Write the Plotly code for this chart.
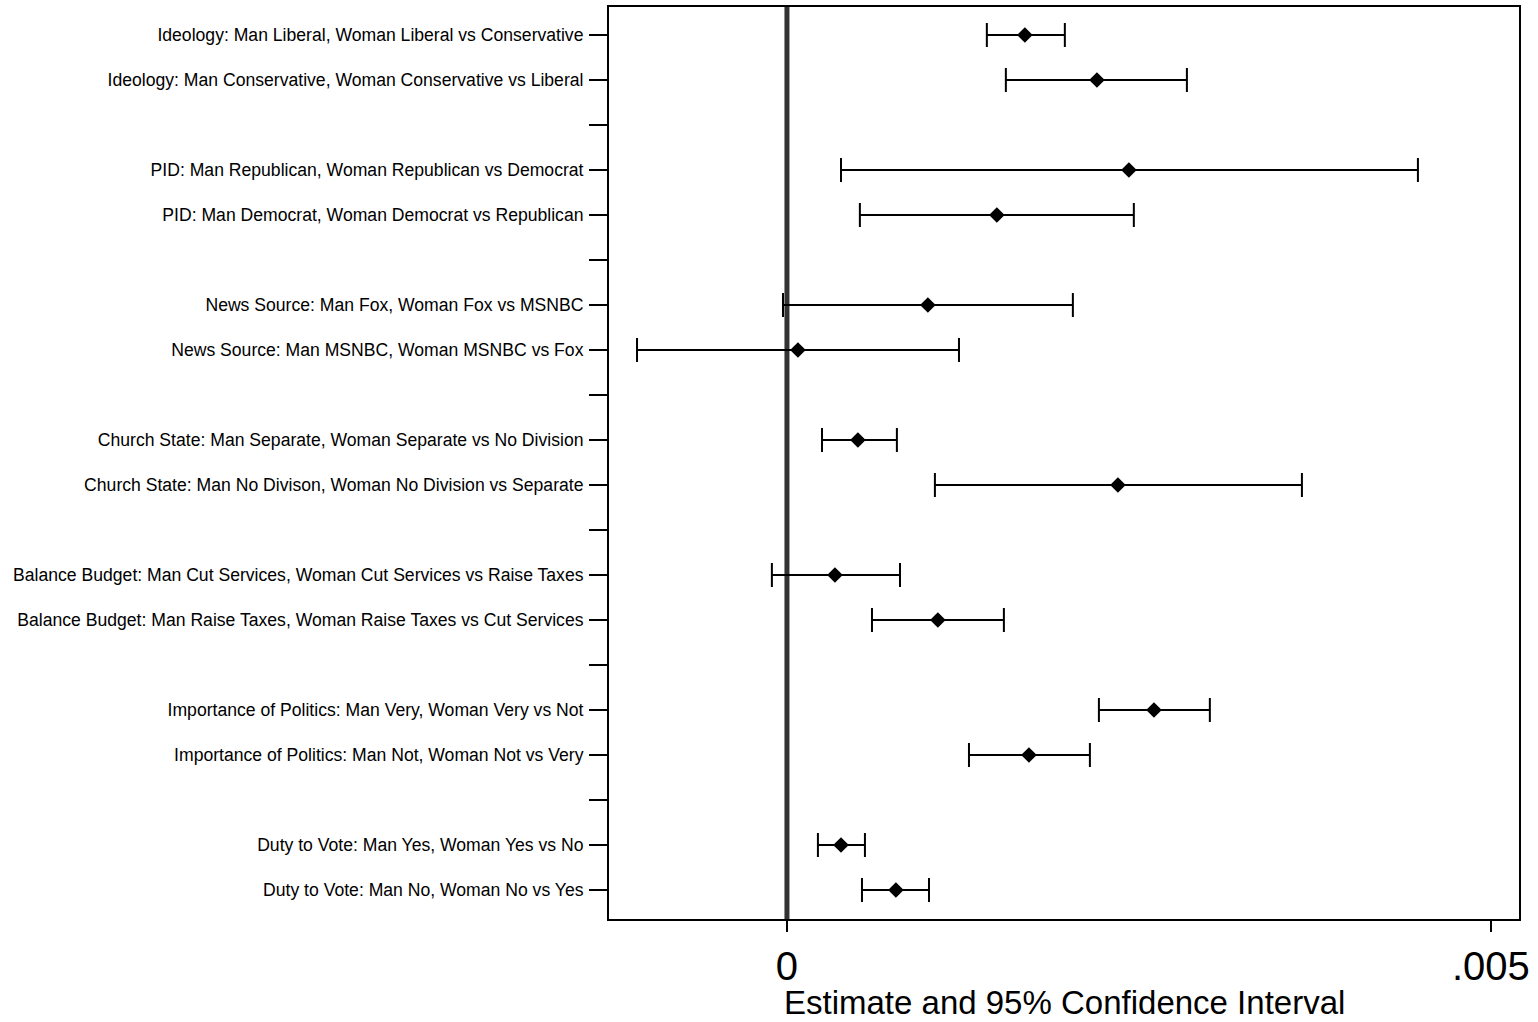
import plotly.graph_objects as go

labels = [
    "Ideology: Man Liberal, Woman Liberal vs Conservative",
    "Ideology: Man Conservative, Woman Conservative vs Liberal",
    "",
    "PID: Man Republican, Woman Republican vs Democrat",
    "PID: Man Democrat, Woman Democrat vs Republican",
    "",
    "News Source: Man Fox, Woman Fox vs MSNBC",
    "News Source: Man MSNBC, Woman MSNBC vs Fox",
    "",
    "Church State: Man Separate, Woman Separate vs No Division",
    "Church State: Man No Divison, Woman No Division vs Separate",
    "",
    "Balance Budget: Man Cut Services, Woman Cut Services vs Raise Taxes",
    "Balance Budget: Man Raise Taxes, Woman Raise Taxes vs Cut Services",
    "",
    "Importance of Politics: Man Very, Woman Very vs Not",
    "Importance of Politics: Man Not, Woman Not vs Very",
    "",
    "Duty to Vote: Man Yes, Woman Yes vs No",
    "Duty to Vote: Man No, Woman No vs Yes",
]
positions = list(range(1, len(labels) + 1))

est = [0.001690, 0.002202, None, 0.002429, 0.001491, None, 0.001001, 0.000078, None,
       0.000504, 0.002351, None, 0.000341, 0.001072, None, 0.002607, 0.001719, None,
       0.000384, 0.000774]
lo = [0.001420, 0.001555, None, 0.000384, 0.000518, None, -0.000028, -0.001065, None,
      0.000249, 0.001051, None, -0.000107, 0.000604, None, 0.002216, 0.001293, None,
      0.000220, 0.000533]
hi = [0.001974, 0.002841, None, 0.004482, 0.002464, None, 0.002031, 0.001222, None,
      0.000781, 0.003658, None, 0.000803, 0.001541, None, 0.003004, 0.002152, None,
      0.000554, 0.001009]

x_title = "Estimate and 95% Confidence Interval"

xs, ys, ep, em = [], [], [], []
for p, e, l, h in zip(positions, est, lo, hi):
    if e is None:
        continue
    xs.append(e); ys.append(p); ep.append(h - e); em.append(e - l)

fig = go.Figure()
fig.add_shape(type="line", x0=0, x1=0, y0=0, y1=1, yref="paper", xref="x",
              line=dict(color="#333333", width=5), layer="below")
fig.add_trace(go.Scatter(
    x=xs, y=ys, mode="markers",
    marker=dict(symbol="diamond", size=12, color="black"),
    error_x=dict(type="data", symmetric=False, array=ep, arrayminus=em,
                 color="black", thickness=2, width=12),
    showlegend=False,
))

fig.update_layout(
    width=1538, height=1022,
    margin=dict(l=609, r=19, t=7, b=103),
    paper_bgcolor="white", plot_bgcolor="white",
    font=dict(family="Liberation Sans, Arial, sans-serif", color="black"),
)
fig.add_annotation(text=x_title, xref="paper", yref="paper", x=0.5, y=-0.0921,
                   xanchor="center", yanchor="middle", showarrow=False,
                   font=dict(size=33, color="black"))
fig.update_xaxes(
    range=[-0.001264, 0.0052],
    tickvals=[0, 0.005], ticktext=["0", ".005"],
    tickfont=dict(size=40),
    ticks="outside", ticklen=11, tickwidth=2, tickcolor="black",
    showline=True, linewidth=2, linecolor="black", mirror=True,
    showgrid=False, zeroline=False, automargin=False,
)
fig.update_yaxes(
    range=[20.644, 0.378],
    tickvals=positions, ticktext=labels,
    tickfont=dict(size=17.6),
    ticks="outside", ticklen=18, tickwidth=2, tickcolor="black",
    ticklabelstandoff=2,
    showline=True, linewidth=2, linecolor="black", mirror=True,
    showgrid=False, zeroline=False, automargin=False,
)

fig.write_html("out.html", config={"displayModeBar": False},
               post_script="document.body.style.margin='0';document.body.style.overflow='hidden';")
